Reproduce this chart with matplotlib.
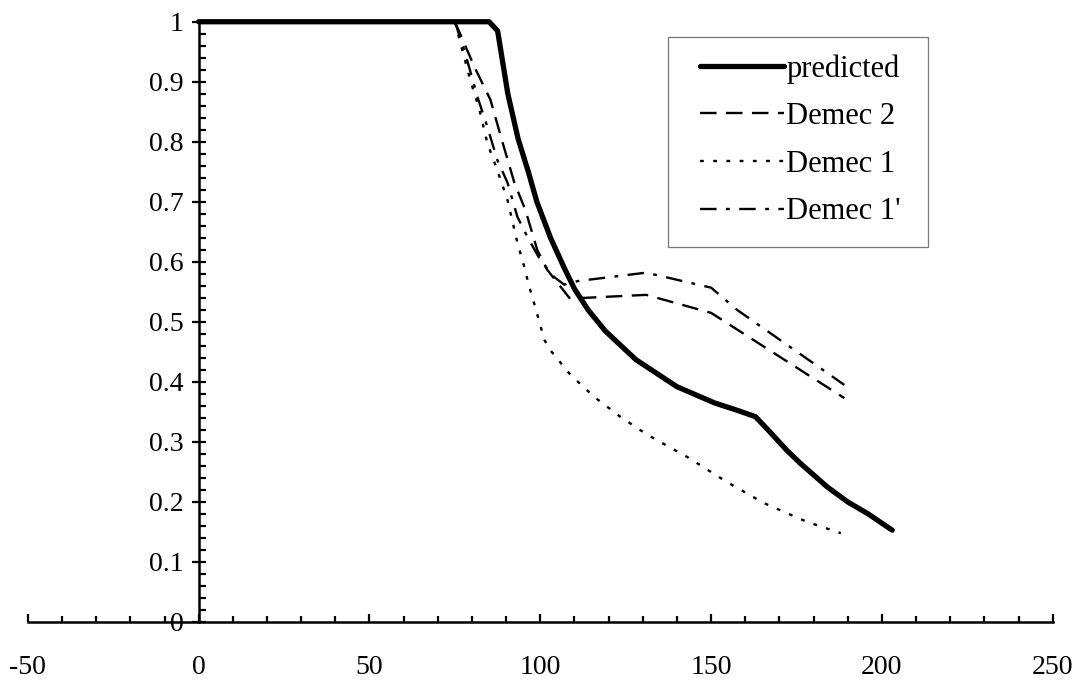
import matplotlib
matplotlib.use("Agg")
import matplotlib.pyplot as plt
from matplotlib.ticker import MultipleLocator, FuncFormatter
from matplotlib.patches import Rectangle

plt.rcParams['font.family'] = ['Liberation Serif', 'DejaVu Serif']
plt.rcParams['axes.unicode_minus'] = False

# Predicted curve
pred_x = [0, 85, 87.5, 90.5, 93.5, 96.5, 99, 103, 107, 110, 114, 119, 128, 140,
          151, 158, 163, 167, 172, 176, 184, 190, 196, 203]
pred_y = [1.0, 1.0, 0.985, 0.88, 0.805, 0.75, 0.70, 0.64, 0.59, 0.555, 0.52,
          0.485, 0.437, 0.392, 0.365, 0.352, 0.342, 0.318, 0.287, 0.265, 0.225,
          0.20, 0.18, 0.153]

# Demec 2
d2_x = [75, 80.7, 85.4, 88.9, 92.4, 95.6, 99.1, 102, 108.5, 113, 131, 150, 189]
d2_y = [1.0, 0.925, 0.87, 0.80, 0.732, 0.687, 0.62, 0.587, 0.54, 0.54, 0.545,
        0.515, 0.373]

# Demec 1
d1_x = [75, 76.6, 79.5, 82.2, 84.5, 87.4, 90.4, 93.3, 95.3, 96.8, 98.5, 101.2,
        102.9, 108.8, 115.8, 123.4, 131.3, 143, 154.7, 165.5, 178, 188]
d1_y = [1.0, 0.965, 0.903, 0.853, 0.798, 0.753, 0.703, 0.632, 0.592, 0.558,
        0.525, 0.47, 0.453, 0.412, 0.375, 0.342, 0.312, 0.275, 0.233, 0.198,
        0.167, 0.148]

# Demec 1'
d1p_x = [75, 78, 81.6, 84.5, 87.4, 90.4, 93.3, 96.2, 100, 104, 107, 111, 131,
         150, 157.6, 189]
d1p_y = [1.0, 0.948, 0.875, 0.825, 0.77, 0.732, 0.675, 0.642, 0.603, 0.575,
         0.562, 0.568, 0.582, 0.557, 0.52, 0.395]

W, H = 1072, 686
fig = plt.figure(figsize=(W / 100, H / 100), dpi=100)
ax = fig.add_axes([0.026, 0.0933, 0.956, 0.875])

ax.plot(pred_x, pred_y, color='black', lw=3.8, solid_capstyle='round',
        solid_joinstyle='round', label='predicted', clip_on=False, zorder=5)
ax.plot(d2_x, d2_y, color='black', lw=1.7, dashes=(7, 4), label='Demec 2',
        clip_on=False)
ax.plot(d1_x, d1_y, color='black', lw=1.7, dashes=(1.6, 4), label='Demec 1',
        clip_on=False)
ax.plot(d1p_x, d1p_y, color='black', lw=1.7, dashes=(7, 4, 1.6, 4),
        label="Demec 1'", clip_on=False)

ax.set_xlim(-50, 250)
ax.set_ylim(0, 1)

for s in ('top', 'right'):
    ax.spines[s].set_visible(False)
ax.spines['left'].set_position(('data', 0))
ax.spines['left'].set_linewidth(1.8)
ax.spines['bottom'].set_linewidth(1.8)

ax.xaxis.set_major_locator(MultipleLocator(50))
ax.xaxis.set_minor_locator(MultipleLocator(10))
ax.yaxis.set_major_locator(MultipleLocator(0.1))
ax.yaxis.set_minor_locator(MultipleLocator(0.02))

ax.tick_params(axis='x', which='major', direction='in', length=6, width=1.6,
               pad=24, labelsize=20)
ax.tick_params(axis='x', which='minor', direction='in', length=4.5, width=1.6)
ax.tick_params(axis='y', which='major', direction='inout', length=10, width=1.6,
               pad=6, labelsize=20)
ax.tick_params(axis='y', which='minor', direction='in', length=5, width=1.6)

ax.yaxis.set_major_formatter(FuncFormatter(
    lambda v, p: '0' if abs(v) < 1e-9 else ('1' if abs(v - 1) < 1e-9 else f'{v:.1f}')))

# Legend entries without their own frame; the box is drawn separately
leg = ax.legend(loc='upper left', bbox_to_anchor=(700 / W, 1 - 54 / H),
                bbox_transform=fig.transFigure, fontsize=22, frameon=False,
                handlelength=2.75, handletextpad=0.08,
                labelspacing=0.61, borderpad=0, borderaxespad=0)
frame = Rectangle((668 / W, 1 - 247 / H), (928 - 668) / W, 210 / H,
                  transform=fig.transFigure, fill=False, edgecolor='#777777',
                  linewidth=0.9)
fig.patches.append(frame)

fig.savefig('out.png', dpi=100, facecolor='white')
